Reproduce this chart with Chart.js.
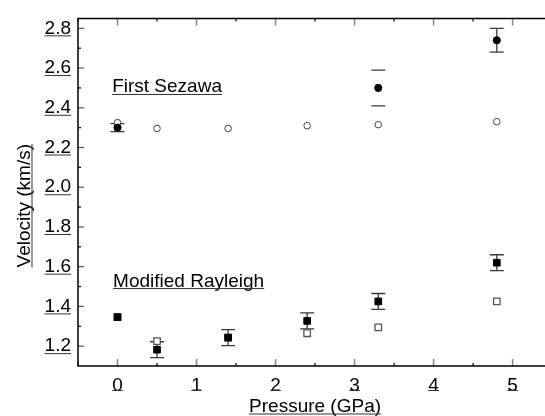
<!DOCTYPE html>
<html>
<head>
<meta charset="utf-8">
<script src="https://cdn.jsdelivr.net/npm/chart.js@4.4.1/dist/chart.umd.min.js"></script>
<style>
  html, body { margin: 0; padding: 0; background: #fff; }
  #wrap { width: 545px; height: 416px; position: relative; }
</style>
</head>
<body>
<div id="wrap"><canvas id="chart"></canvas></div>
<script>
// pressure (GPa) for every measurement
const pressure = [0, 0.5, 1.4, 2.4, 3.3, 4.8];

// First Sezawa mode (km/s)
const sezawaMeasX = [0, 3.3, 4.8];
const sezawaMeas = [2.30, 2.50, 2.74];
const sezawaMeasErr = [0.02, 0.09, 0.06];
const sezawaCalc = [2.325, 2.296, 2.296, 2.31, 2.315, 2.33];

// Modified Rayleigh mode (km/s)
const rayleighMeas = [1.346, 1.182, 1.243, 1.327, 1.425, 1.62];
const rayleighMeasErr = [0, 0.04, 0.04, 0.04, 0.04, 0.04];
const rayleighCalc = [1.346, 1.225, 1.243, 1.265, 1.294, 1.425];

// axes
const xTicks = [0, 1, 2, 3, 4, 5];
const yTicks = [1.2, 1.4, 1.6, 1.8, 2.0, 2.2, 2.4, 2.6, 2.8];
const xTitle = 'Pressure (GPa)';
const yTitle = 'Velocity (km/s)';
const labels = [
  { text: 'First Sezawa', x: -0.068, y: 2.477 },
  { text: 'Modified Rayleigh', x: -0.056, y: 1.50 }
];

const FAMILY = '"Liberation Sans", Arial, sans-serif';
const FONT = '19px ' + FAMILY;
const toPts = (xs, ys) => xs.map((x, i) => ({ x: x, y: ys[i] }));

// error bars, box, inward ticks, underlined texts
const decor = {
  id: 'decor',
  beforeDatasetsDraw(chart) {
    const { ctx, scales: { x, y } } = chart;
    const bars = [
      { xs: sezawaMeasX, ys: sezawaMeas, err: sezawaMeasErr, capsOnly: [1] },
      { xs: pressure, ys: rayleighMeas, err: rayleighMeasErr, capsOnly: [] }
    ];
    ctx.save();
    ctx.strokeStyle = '#3a3a3a';
    ctx.lineWidth = 1.3;
    bars.forEach(b => {
      b.xs.forEach((xv, i) => {
        if (!b.err[i]) return;
        const px = x.getPixelForValue(xv);
        const top = y.getPixelForValue(b.ys[i] + b.err[i]);
        const bot = y.getPixelForValue(b.ys[i] - b.err[i]);
        ctx.beginPath();
        if (!b.capsOnly.includes(i)) {
          ctx.moveTo(px, top); ctx.lineTo(px, bot);
        }
        ctx.moveTo(px - 7, top); ctx.lineTo(px + 7, top);
        ctx.moveTo(px - 7, bot); ctx.lineTo(px + 7, bot);
        ctx.stroke();
      });
    });
    ctx.restore();
  },
  afterDraw(chart) {
    const { ctx, chartArea: a, scales: { x, y } } = chart;
    ctx.save();

    // inward ticks: major grey, minor black
    for (let k = -1; k <= 11; k++) {
      const px = x.getPixelForValue(k / 2);
      if (px > a.right) continue;
      const major = k % 2 === 0;
      ctx.strokeStyle = major ? '#888' : '#000';
      ctx.lineWidth = major ? 1.5 : 1.2;
      const len = major ? 7 : 3;
      ctx.beginPath();
      ctx.moveTo(px, a.bottom); ctx.lineTo(px, a.bottom - len);
      ctx.moveTo(px, a.top); ctx.lineTo(px, a.top + len);
      ctx.stroke();
    }
    for (let k = 12; k <= 28; k++) {
      const py = y.getPixelForValue(k / 10);
      const major = k % 2 === 0;
      ctx.strokeStyle = major ? '#555' : '#000';
      ctx.lineWidth = 1.2;
      ctx.beginPath();
      ctx.moveTo(a.left, py); ctx.lineTo(a.left + (major ? 6 : 3), py);
      ctx.stroke();
    }

    // frame (right side lies outside the picture)
    ctx.strokeStyle = '#000';
    ctx.lineWidth = 1.5;
    ctx.beginPath();
    ctx.moveTo(a.right + 2, a.top); ctx.lineTo(a.left, a.top);
    ctx.lineTo(a.left, a.bottom); ctx.lineTo(a.right + 2, a.bottom);
    ctx.stroke();

    // underlines under tick labels
    ctx.font = FONT;
    ctx.lineWidth = 1;
    ctx.strokeStyle = '#333';
    ctx.beginPath();
    xTicks.forEach(v => {
      const px = x.getPixelForValue(v);
      const w = ctx.measureText(String(v)).width;
      ctx.moveTo(px - w / 2, a.bottom + 24.5); ctx.lineTo(px + w / 2, a.bottom + 24.5);
    });
    yTicks.forEach(v => {
      const py = y.getPixelForValue(v) + 7.5;
      const w = ctx.measureText(v.toFixed(1)).width;
      ctx.moveTo(a.left - 7 - w, py); ctx.lineTo(a.left - 7, py);
    });
    ctx.stroke();

    // texts with underline
    const underlined = (text, px, py, align) => {
      ctx.textAlign = align;
      ctx.textBaseline = 'alphabetic';
      ctx.fillStyle = '#000';
      ctx.fillText(text, px, py);
      const w = ctx.measureText(text).width;
      const x0 = align === 'center' ? px - w / 2 : px;
      ctx.beginPath();
      ctx.moveTo(x0, py + 2); ctx.lineTo(x0 + w, py + 2);
      ctx.stroke();
    };
    labels.forEach(l => underlined(l.text, x.getPixelForValue(l.x), y.getPixelForValue(l.y), 'left'));
    underlined(xTitle, x.getPixelForValue(2.5), 412, 'center');
    ctx.translate(30, y.getPixelForValue(1.907));
    ctx.rotate(-Math.PI / 2);
    underlined(yTitle, 0, 0, 'center');
    ctx.restore();
  }
};

new Chart(document.getElementById('chart'), {
  type: 'scatter',
  data: {
    datasets: [
      {
        label: 'Sezawa measured',
        data: toPts(sezawaMeasX, sezawaMeas),
        pointStyle: 'circle', pointRadius: 3.6,
        backgroundColor: '#000', borderColor: '#000', borderWidth: 1,
        order: 0
      },
      {
        label: 'Sezawa calculated',
        data: toPts(pressure, sezawaCalc),
        pointStyle: 'circle', pointRadius: 3.3,
        backgroundColor: '#fff', borderColor: '#444', borderWidth: 1,
        order: 1
      },
      {
        label: 'Rayleigh measured',
        data: toPts(pressure, rayleighMeas),
        pointStyle: 'rect', pointRadius: 4.7,
        backgroundColor: '#000', borderColor: '#000', borderWidth: 1,
        order: 0
      },
      {
        label: 'Rayleigh calculated',
        data: toPts(pressure, rayleighCalc),
        pointStyle: 'rect', pointRadius: 4.6,
        backgroundColor: '#fff', borderColor: '#555', borderWidth: 1.3,
        order: 1
      }
    ]
  },
  options: {
    responsive: true,
    maintainAspectRatio: false,
    animation: false,
    layout: { autoPadding: false, padding: { top: 14, right: 0, left: 0, bottom: 0 } },
    plugins: { legend: { display: false }, tooltip: { enabled: false } },
    scales: {
      x: {
        type: 'linear', min: -0.5, max: 5.41,
        afterBuildTicks: s => { s.ticks = xTicks.map(v => ({ value: v })); },
        afterFit: s => { s.height = 50; },
        grid: { display: false, drawTicks: false },
        border: { display: false },
        ticks: { color: '#000', font: { family: FAMILY, size: 19 }, padding: 8, maxRotation: 0 }
      },
      y: {
        type: 'linear', min: 1.1, max: 2.85,
        afterBuildTicks: s => { s.ticks = yTicks.map(v => ({ value: v })); },
        afterFit: s => { s.width = 78; },
        grid: { display: false, drawTicks: false },
        border: { display: false },
        ticks: {
          color: '#000', font: { family: FAMILY, size: 19 }, padding: 7,
          callback: v => v.toFixed(1)
        }
      }
    }
  },
  plugins: [decor]
});
</script>
</body>
</html>
